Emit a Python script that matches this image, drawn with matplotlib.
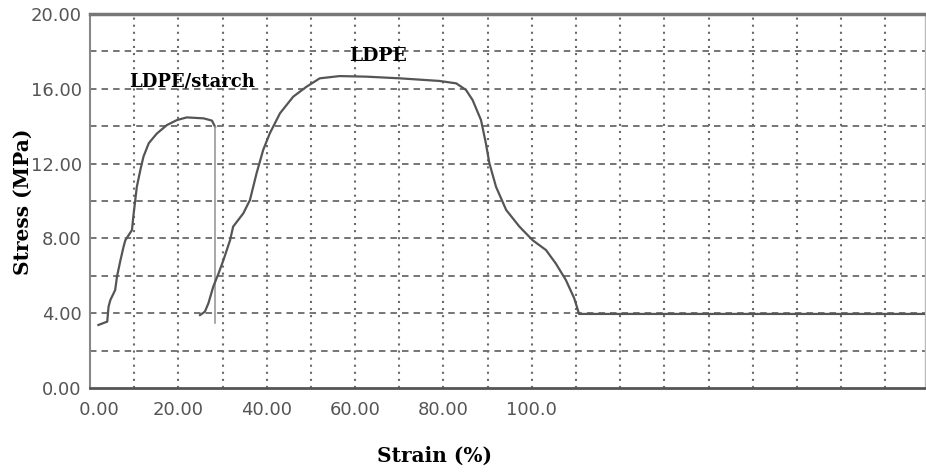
import matplotlib
matplotlib.use('Agg')
import matplotlib.pyplot as plt
import numpy as np

# LDPE/starch curve (strain %, stress MPa)
starch_x = [1.9, 3.9, 4.2, 4.6, 5.7, 6.1, 6.9, 7.6, 8.0, 9.5, 9.8, 10.6, 11.4, 12.1,
            13.3, 15.1, 17.4, 19.7, 21.9, 25.7, 27.6, 28.3]
starch_y = [3.37, 3.55, 4.35, 4.7, 5.24, 5.95, 6.84, 7.56, 7.9, 8.45, 9.16, 10.76, 11.66, 12.37,
            13.09, 13.6, 14.06, 14.33, 14.47, 14.42, 14.3, 13.97]
# break of the starch sample
drop_x = [28.3, 28.3]
drop_y = [13.97, 3.5]

# LDPE curve
ldpe_x = [24.9, 26.0, 26.8, 27.9, 29.1, 30.2, 31.7, 32.4, 34.7, 36.2, 37.7, 39.2, 40.7,
          43.0, 46.0, 49.0, 52.0, 56.5, 62.5, 70.1, 79.1, 82.9, 85.1, 86.6, 88.5, 89.6,
          90.4, 91.9, 94.2, 97.2, 100.2, 103.2, 105.4, 107.7, 109.6, 110.7, 189.0]
ldpe_y = [3.9, 4.08, 4.53, 5.42, 6.13, 6.84, 7.9, 8.63, 9.34, 10.05, 11.48, 12.73, 13.62,
          14.69, 15.58, 16.11, 16.56, 16.68, 16.65, 16.56, 16.42, 16.29, 15.94, 15.4, 14.33, 13.09,
          12.02, 10.76, 9.52, 8.63, 7.9, 7.38, 6.67, 5.78, 4.8, 3.96, 3.96]

xticks = [0, 20, 40, 60, 80, 100]
xticklabels = ['   0.00', '20.00', '40.00', '60.00', '80.00', '100.0']
yticks = [0, 4, 8, 12, 16, 20]
yticklabels = ['0.00', '4.00', '8.00', '12.00', '16.00', '20.00']
xgrid = np.arange(10, 181, 10)
ygrid = np.arange(2, 19, 2)

fig = plt.figure(figsize=(9.26, 4.73), dpi=100)
ax = fig.add_axes([90/926, 85/473, 835/926, 374/473])
ax.set_xlim(0, 189)
ax.set_ylim(0, 20)

gridc = '#6a6a6a'
for gx in xgrid:
    ax.axvline(gx, color=gridc, lw=1.5, linestyle=(0, (1.0, 2.4)), zorder=1)
for gy in ygrid:
    ax.axhline(gy, color=gridc, lw=1.3, linestyle=(0, (3.6, 2.8)), zorder=1)

curvec = '#555555'
ax.plot(starch_x, starch_y, color=curvec, lw=1.6, zorder=3)
ax.plot(drop_x, drop_y, color='#9a9a9a', lw=1.2, zorder=3)
ax.plot(ldpe_x, ldpe_y, color=curvec, lw=1.6, zorder=3)

serif = 'DejaVu Serif'
ax.text(23.2, 16.4, 'LDPE/starch', family=serif, fontweight='bold',
        fontsize=13, ha='center', va='center')
ax.text(65.3, 17.75, 'LDPE', family=serif, fontweight='bold',
        fontsize=13.5, ha='center', va='center')

ax.set_xticks(xticks)
ax.set_xticklabels(xticklabels)
ax.set_yticks(yticks)
ax.set_yticklabels(yticklabels)
ax.tick_params(length=0, labelsize=13, labelcolor='#555555')
ax.tick_params(axis='x', pad=9)
ax.tick_params(axis='y', pad=6)

ax.set_xlabel('Strain (%)', family=serif, fontweight='bold', fontsize=14.5)
ax.xaxis.set_label_coords(0.413, -0.155)
ax.set_ylabel('Stress (MPa)', family=serif, fontweight='bold', fontsize=14.5)
ax.yaxis.set_label_coords(-0.068, 0.497)

ax.spines['top'].set_color('#777777')
ax.spines['top'].set_linewidth(2.5)
ax.spines['bottom'].set_color('#555555')
ax.spines['bottom'].set_linewidth(2)
ax.spines['left'].set_color('#888888')
ax.spines['left'].set_linewidth(1.5)
ax.spines['right'].set_color('#bbbbbb')
ax.spines['right'].set_linewidth(1)

plt.savefig('out.png', dpi=100)
